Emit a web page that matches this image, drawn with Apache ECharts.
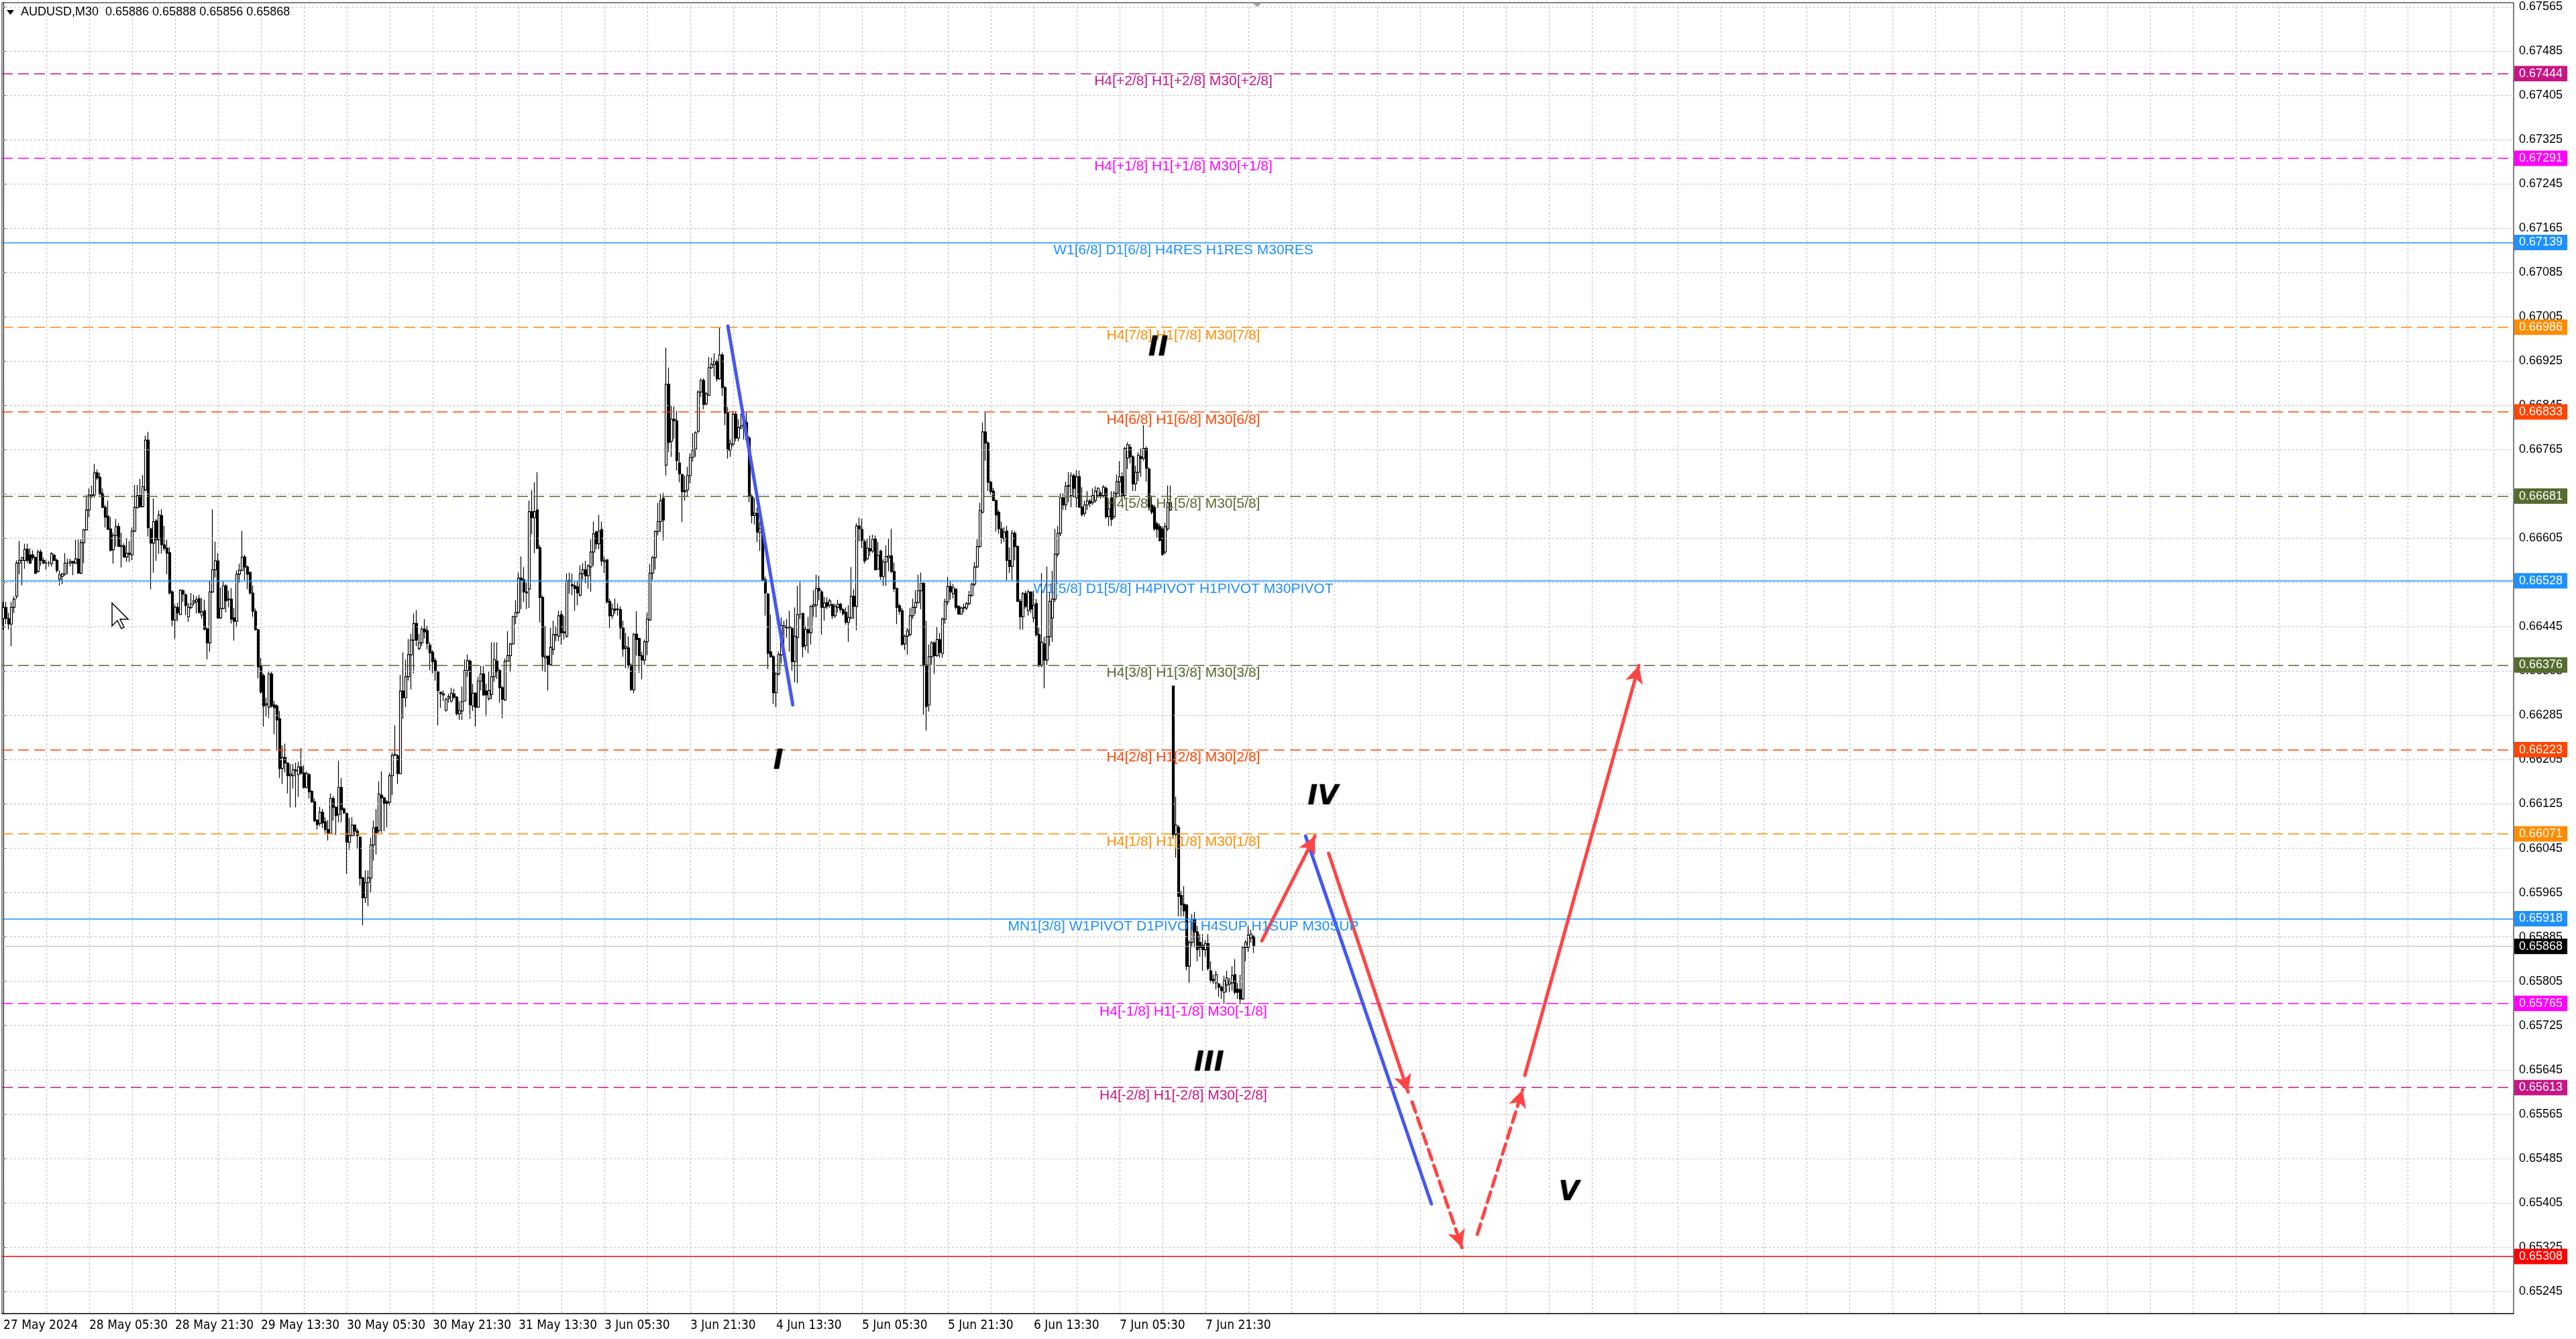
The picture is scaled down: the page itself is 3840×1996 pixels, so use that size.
<!DOCTYPE html>
<html>
<head>
<meta charset="utf-8">
<script src="https://cdn.jsdelivr.net/npm/echarts@6/dist/echarts.min.js"></script>
<style>
  html, body { margin: 0; padding: 0; background: #ffffff; }
  #chart { width: 3840px; height: 1996px; }
</style>
</head>
<body>
<div id="chart"></div>
<script>
// AUDUSD M30, prices in pips (x 0.0001), each row is [open, high, low, close]
var bars = [
  // 0
  [6646,6649,6644,6648],[6648,6649,6645,6646],[6646,6647,6644,6645],[6645,6649,6641,6648],[6648,6650,6647,6649.5],
  [6650,6656.5,6649.5,6656],[6656,6660,6654,6656.5],[6656.5,6657,6652,6657],[6656.5,6659.5,6655,6658.5],[6658.5,6659.5,6656,6656.5],
  // 10
  [6657.5,6658.7,6655.8,6656],[6657.5,6658.3,6656.5,6657],[6657,6657.2,6654,6654.2],[6654.5,6658.4,6654.3,6658],[6658,6658.5,6655.5,6656.5],
  [6656.5,6657,6655.8,6656],[6656,6656.6,6654.8,6656],[6656,6656.4,6655.4,6656],[6655.9,6658,6655.4,6657.7],[6657.4,6657.7,6656.4,6656.5],
  // 20
  [6656.5,6656.8,6654.3,6654.7],[6653.1,6654.7,6652,6653.9],[6653.6,6654.3,6652.2,6654],[6654,6657.8,6653.7,6656],[6656,6656.8,6654,6656],
  [6656,6656.8,6655.4,6656.3],[6656.3,6656.4,6653.8,6656],[6656,6660.2,6655.8,6656.8],[6656.7,6660.3,6654.2,6654.2],[6654.2,6660.3,6654,6659.7],
  // 30
  [6659.7,6662.2,6656,6662],[6662,6668.3,6661.9,6665.6],[6665.6,6669.5,6664.3,6668.3],[6668.2,6670,6667.7,6668.4],[6668.3,6673.9,6667.8,6672.3],
  [6672.3,6672.9,6671,6671.4],[6671.5,6672.3,6668.3,6668.4],[6668.6,6669.5,6665.9,6666.1],[6666.1,6666.5,6662.4,6664.3],[6664.5,6667.3,6662.1,6662.1],
  // 40
  [6662.2,6664.3,6658.1,6658.3],[6658.4,6661.5,6655.9,6661],[6661,6664,6659,6662.6],[6662.6,6663.2,6659,6659],[6659,6661.5,6655.2,6659.2],
  [6659.1,6659.6,6657,6657.1],[6657.1,6660.5,6656.2,6657.8],[6657.8,6660,6656.2,6657.6],[6657.5,6662.4,6656.5,6661.8],[6661.8,6670.1,6661.6,6666.1],
  // 50
  [6666,6670.1,6665.9,6668.2],[6668.2,6671.2,6666,6666.2],[6666.2,6671.9,6666,6669.8],[6669.2,6679,6669,6678.2],[6678.2,6679.7,6660.8,6662.4],
  [6662.2,6662.4,6651.3,6659.6],[6659.6,6667.7,6654.3,6663.5],[6663.6,6664,6656.4,6660.2],[6660.2,6665.5,6657.7,6664.7],[6664.6,6665.7,6657.7,6659.3],
  // 60
  [6659.3,6662.7,6658.2,6658.7],[6658.7,6660.2,6654,6657.8],[6657.9,6658.9,6650.3,6650.6],[6650.8,6651.1,6644.6,6645.7],[6645.7,6648.5,6642.3,6648],
  [6648,6648.8,6645.5,6647],[6646.7,6651.3,6646.6,6651.1],[6651,6651.3,6649,6650.4],[6650.3,6650.5,6646.6,6648.3],[6646.3,6648.8,6645.4,6648],
  // 70
  [6648,6650.6,6647.7,6648.6],[6648.8,6650.3,6648.4,6649.2],[6649,6650,6646.9,6649.4],[6649.6,6650.3,6646.9,6647.1],[6646.6,6649.7,6646,6647.2],
  [6647.4,6649.4,6643.8,6644.1],[6644.1,6644.4,6638.6,6641.6],[6641.6,6652.9,6640,6650.8],[6650.8,6665.7,6650.6,6654.8],[6654.8,6659.9,6653.4,6656.4],
  // 80
  [6656.4,6657.8,6646,6646.1],[6646.1,6651.6,6645.9,6647.8],[6647.8,6652.7,6647.7,6651.9],[6651.9,6652.2,6647.1,6649.2],[6649.5,6651,6648,6649.4],
  [6649.5,6651.5,6645.1,6645.9],[6646.1,6647.9,6642,6645.5],[6645.5,6654.7,6644.4,6654],[6654,6655.9,6652.5,6654.7],[6654.7,6661.8,6654.6,6657.1],
  // 90
  [6657.1,6657.5,6652.9,6655.3],[6655.3,6655.6,6651.3,6654],[6654.3,6654.5,6650.3,6650.6],[6650.6,6652,6646.3,6647.3],[6647.3,6647.8,6643.8,6644],
  [6644,6644.1,6635.2,6637.3],[6637.4,6638.9,6632.4,6632.7],[6635.7,6636.1,6626.5,6630.2],[6630.4,6631.7,6628.3,6630.6],[6630,6636.4,6628,6636],
  // 100
  [6636,6636.4,6629.9,6630.2],[6630.4,6631.1,6625.1,6629.9],[6630.2,6630.5,6622.4,6627.7],[6627.9,6629.3,6617.2,6618.9],[6618.9,6623.1,6616.1,6620.9],
  [6620.9,6623.4,6618.2,6619.9],[6619.9,6620,6614.4,6617.6],[6617.6,6619.7,6611.9,6617.9],[6617.6,6619.7,6615.3,6618.7],[6618.6,6620,6611.9,6618.5],
  // 110
  [6617.8,6620.1,6613.8,6619.2],[6619.2,6622.6,6617.8,6618.1],[6618.1,6619.5,6615.3,6615.5],[6615.5,6618.4,6615.3,6618],[6617.8,6618.1,6613.5,6614.7],
  [6614.8,6615,6612.7,6612.9],[6612.9,6613.5,6609.2,6609.5],[6609.6,6609.6,6607.9,6608.8],[6609,6612,6608.5,6611],[6611,6611.6,6608.2,6609.1],
  // 120
  [6609.3,6610.1,6607.3,6607.9],[6607.9,6609.6,6605.9,6607.2],[6607.2,6614.4,6607,6613.5],[6613.5,6613.9,6609.5,6611.9],[6611.9,6612.1,6606.9,6610.4],
  [6610.6,6620.3,6609.2,6615.5],[6615.5,6617.2,6609.2,6611.5],[6611.6,6611.9,6610.7,6610.9],[6610.8,6610.9,6599.9,6605.6],[6605.6,6610,6604.2,6606.8],
  // 130
  [6606.8,6610.1,6606.7,6608.7],[6608.7,6608.8,6606.7,6607.6],[6607.6,6608.1,6604.4,6606.8],[6606.5,6606.7,6597.8,6599.1],[6599.2,6599.3,6590.6,6595.6],
  [6595.6,6600.5,6594.6,6598.3],[6598.3,6600.5,6594.1,6599.2],[6599.1,6606.4,6596.5,6605.1],[6605.1,6609.5,6602.3,6608.2],[6608.3,6611.6,6603.4,6607.3],
  // 140
  [6607.7,6616.6,6607.3,6614.3],[6614.1,6618.4,6607.3,6613.6],[6613.6,6613.8,6607.6,6612.6],[6612.9,6613.2,6608.3,6612.6],[6612.8,6618.1,6612.2,6617.6],
  [6617.6,6621.8,6614.1,6621.3],[6621.3,6626.7,6621.2,6621.5],[6621.2,6621.5,6616.1,6618],[6618,6635.8,6618,6632.9],[6632.9,6639.9,6627.9,6631.7],
  // 150
  [6631.7,6638.6,6630,6635.5],[6635.5,6642.3,6634.8,6639.5],[6639.4,6643.2,6633.2,6642.1],[6642.1,6646.9,6636.1,6645.1],[6645.1,6647.5,6641,6642.1],
  [6640.6,6643.2,6640.3,6641.6],[6641.6,6644.7,6641,6644.1],[6644.1,6645.9,6642.4,6643.6],[6643.8,6644.7,6640.4,6641.5],[6641.2,6641.7,6636.7,6639.8],
  // 160
  [6639.9,6640.3,6636.1,6638.2],[6638.4,6638.9,6634.8,6636.6],[6636.4,6636.6,6626.7,6633],[6632.7,6632.7,6629.9,6632.4],[6632.4,6633,6631.1,6632.2],
  [6629.4,6631.7,6629.2,6631.4],[6631.6,6632.4,6630.8,6631.9],[6631.1,6633.5,6630.8,6632.5],[6632.4,6633.3,6631.4,6631.8],[6631.8,6632,6628.5,6628.8],
  // 170
  [6628.8,6631.1,6627.7,6629.4],[6629.3,6633.7,6627.7,6631],[6631.1,6638.6,6631,6636.6],[6636.6,6639.5,6635.5,6638.4],[6638.3,6638.6,6627.9,6630.4],
  [6630.2,6634.2,6629.3,6632.5],[6632.5,6632.7,6626.5,6630],[6630,6635.5,6629.9,6634.7],[6634.7,6637.5,6633,6636],[6636,6637.5,6632,6632.2],
  // 180
  [6632.9,6634.2,6628.3,6632.2],[6631.5,6636.4,6631.2,6633],[6632.3,6641.7,6631.4,6635.5],[6635.5,6641.7,6634.6,6638.6],[6638.3,6641.7,6635.1,6636.4],
  [6636.6,6636.9,6630.8,6633.5],[6633.5,6633.8,6628,6631.4],[6631.3,6638.8,6631.1,6638.3],[6638.3,6643.7,6638.2,6639.3],[6639.3,6641.6,6636.3,6641.4],
  // 190
  [6641.4,6646.5,6641.3,6646.3],[6646.3,6649.3,6645,6647.1],[6647.1,6654.3,6646.8,6653.3],[6653.3,6657.2,6647.7,6652.9],[6653,6655.3,6649,6650.8],
  [6650.8,6652.5,6647.7,6650.6],[6651.3,6667.3,6647.9,6665.3],[6665.3,6669.2,6661.2,6664.2],[6664.2,6670.6,6657.8,6665.3],[6665.6,6672.4,6658.5,6658.7],
  // 200
  [6658.8,6659.3,6645.3,6649.8],[6649.8,6650.2,6636.6,6639.1],[6638.9,6644.6,6636.3,6639.2],[6639.2,6639.3,6633,6637.7],[6637.7,6644.3,6637.6,6640.8],
  [6640.4,6645.6,6639.4,6643.1],[6643.1,6644.6,6641.9,6643],[6642.8,6647.4,6641.9,6646.5],[6646.7,6647.4,6641.3,6643.4],[6643.4,6646.5,6642.2,6643.6],
  // 210
  [6642.8,6654.1,6642.5,6652.8],[6652.9,6654.3,6650.5,6652.7],[6652.1,6654.1,6650.2,6651.9],[6651.9,6652.7,6647.4,6651.4],[6651.7,6652.7,6648.4,6650.6],
  [6650.2,6655.6,6650,6654.1],[6654.1,6656,6653,6654.8],[6654.8,6656.4,6652.4,6653.7],[6653.7,6655.8,6651.4,6655.5],[6655.3,6660.3,6650.8,6658],
  // 220
  [6658,6663.5,6655.5,6661.3],[6661.6,6661.9,6658.5,6659.5],[6659.5,6664.7,6658.5,6661.8],[6662.1,6663.5,6655.5,6656.4],[6656.4,6657.2,6654.2,6656.3],
  [6656.6,6656.7,6648.7,6649],[6649.1,6649.6,6644.3,6646.5],[6646.5,6648.7,6645.9,6647.7],[6647.7,6649.6,6646.8,6647.5],[6647.6,6648.7,6646.5,6647.7],
  // 230
  [6647.6,6648.2,6642.2,6644.3],[6644.3,6645.6,6639.1,6640.5],[6640.6,6643.4,6637,6640.9],[6640.7,6642.8,6637,6637.6],[6637.6,6637.9,6632.9,6633.2],
  [6633.1,6643.4,6632.5,6643.1],[6643.2,6647.3,6639.3,6642.2],[6642.4,6642.5,6636.2,6639.3],[6639.3,6640,6635,6638.5],[6638.5,6642.2,6637.6,6641.8],
  // 240
  [6641.8,6647.1,6639.4,6645.9],[6645.7,6655.8,6645.6,6654.2],[6654.2,6657.3,6653,6657],[6657,6661.9,6654.8,6661.7],[6661.7,6666.9,6661,6663.5],
  [6663.5,6668.5,6661.6,6667.3],[6667.7,6668.7,6660.1,6663.8],[6673.7,6694.9,6671.8,6688.3],[6688.3,6691.3,6676.1,6677.8],[6678,6684.5,6675.2,6682],
  // 250
  [6682,6684.3,6678.4,6681.7],[6681.7,6683.5,6672.7,6674.5],[6674.1,6676,6670.6,6672.1],[6672,6672.1,6663.4,6668.9],[6669.1,6671.8,6667.3,6668.9],
  [6669.2,6673.4,6668.1,6671.8],[6671.8,6675.8,6670.4,6675.1],[6675.1,6679.5,6674.3,6676.4],[6676.6,6679.8,6675.2,6679.5],[6679.8,6687.2,6679.5,6686.9],
  // 260
  [6686.9,6689.4,6686,6689],[6689,6689.4,6683.8,6684.6],[6684.8,6686.9,6684.5,6686.6],[6686.3,6693.2,6686.2,6691.3],[6691.3,6693.1,6691.1,6691.9],
  [6691.9,6693.9,6689.7,6692.4],[6692.4,6692.8,6688.8,6689.3],[6689.3,6698.5,6689.1,6693.6],[6693.6,6694,6686.2,6687.7],[6687.7,6688,6680.9,6683.1],
  // 270
  [6683.1,6684.2,6674.9,6676.4],[6676.4,6678.3,6675.2,6677.5],[6677.5,6683.4,6677.1,6682.9],[6682.9,6683.4,6678,6678.6],[6678.6,6682,6678,6680.5],
  [6680.4,6683,6680.2,6680.8],[6681.7,6683,6678.3,6680.8],[6681.4,6683.2,6678,6678.3],[6678.6,6678.9,6667,6668.1],[6668.1,6668.4,6663.2,6664.6],
  // 280
  [6664.6,6667.8,6663,6665],[6665,6666,6659.8,6661.6],[6661.5,6663.5,6658.2,6662.2],[6662.1,6662.5,6652.7,6653],[6653,6653.6,6646.5,6650.6],
  [6650.4,6650.6,6636.9,6639.7],[6640,6646.7,6638.9,6639.1],[6639.1,6639.4,6630.6,6632.6],[6632.6,6636.3,6630,6636],[6636,6640,6635.7,6639.5],
  // 290
  [6639.4,6646.2,6637.9,6644.7],[6644.4,6645.6,6640.6,6644.7],[6644.4,6645.9,6642.5,6644.3],[6644.3,6647.4,6640,6644.5],[6644.2,6644.5,6636.6,6638.2],
  [6638.2,6648,6634.5,6642.8],[6642.6,6651.9,6634.3,6646.7],[6646.8,6652.7,6645.9,6646.8],[6646.9,6647.1,6639,6640.9],[6641.1,6644.6,6640.3,6644],
  // 300
  [6644,6646.3,6639.7,6643.4],[6643.4,6648.4,6641.3,6648.2],[6648.2,6651.1,6646.3,6648.5],[6648.4,6653.9,6646.2,6651.4],[6651.4,6653.7,6649.3,6651],
  [6650.8,6651.1,6643.1,6648],[6648,6649.9,6645.6,6648.8],[6648.9,6649.8,6647.7,6648.2],[6648.4,6649.6,6647.9,6649.2],[6648.5,6648.7,6645.9,6646.5],
  // 310
  [6646.5,6648.7,6646.1,6648.2],[6648,6649.4,6647.1,6648.6],[6648.6,6648.8,6647.1,6647.6],[6647.6,6647.9,6646.5,6646.9],[6647.1,6648,6644.9,6645.3],
  [6645.3,6648.4,6641.8,6646.2],[6646.1,6655.3,6645.9,6650],[6650,6651.3,6645.9,6648.2],[6648.2,6663.2,6643.9,6662.7],[6662.7,6664.2,6659.9,6662.2],
  // 320
  [6662.1,6664,6658.7,6660.1],[6659.9,6660.3,6655.9,6656.4],[6656.8,6660.4,6656.5,6658.7],[6658.6,6661,6657.3,6658.2],[6658.2,6661.1,6657.8,6660.3],
  [6660.3,6661,6654.7,6654.8],[6654.9,6659.8,6654.8,6657.4],[6658.2,6658.4,6653,6653.6],[6653.6,6656.7,6651.9,6656.2],[6656.2,6659.2,6651.9,6657.2],
  // 330
  [6657,6660.4,6654.5,6657.3],[6657.3,6662.2,6654.2,6654.5],[6654.5,6656.1,6650.8,6651.4],[6651.4,6651.6,6645,6648],[6648.3,6648.7,6646.7,6647.3],
  [6647.4,6647.9,6641.1,6641.3],[6641.4,6643.1,6640.3,6642.8],[6642.8,6644.3,6639.5,6643.8],[6643.1,6647.9,6642.8,6646.5],[6646.5,6649.6,6645.9,6648],
  // 340
  [6648,6651.1,6646.8,6648.9],[6648.9,6653.9,6648.7,6651],[6651,6654.3,6647.7,6652.4],[6652.4,6652.5,6628.6,6637.6],[6637.6,6645.6,6625.8,6630.1],
  [6630.4,6641.3,6629.2,6639.1],[6639.1,6641.9,6637.6,6641.6],[6641.6,6641.9,6636,6639.3],[6639.3,6644.5,6639.1,6642.2],[6642.2,6643.4,6638.9,6639.9],
  // 350
  [6639.7,6646.2,6638.9,6645.9],[6645.9,6649.6,6645.1,6649],[6649,6653.5,6648.4,6651.8],[6651.8,6652.7,6649.4,6650.8],[6650.5,6652.2,6649.6,6651.6],
  [6651.3,6651.4,6647.6,6648],[6648.2,6648.4,6646.7,6646.8],[6646.8,6648.2,6646.7,6647.9],[6648,6648.7,6647.1,6647.9],[6647.9,6649,6647.5,6648.7],
  // 360
  [6648.7,6651,6648.4,6650.2],[6650.2,6652.5,6649.9,6652.2],[6652.2,6656.2,6651.8,6655.3],[6655.3,6660.3,6655.1,6659],[6659,6666.9,6658.8,6665.5],
  [6665.2,6681.4,6665,6679.7],[6679.7,6683.2,6674.5,6677.7],[6677.7,6678,6669,6670.6],[6670.6,6670.9,6668.4,6668.9],[6669,6669.6,6667.2,6667.3],
  // 370
  [6667.3,6667.5,6661.7,6664.7],[6665.2,6665.6,6661.3,6662.2],[6662.2,6663.5,6659.5,6660.5],[6660.5,6662.5,6659.8,6661.6],[6661.8,6662.7,6652.9,6656.5],
  [6656.5,6658.8,6654.2,6655.4],[6655.4,6662,6652.9,6661.4],[6661.4,6661.8,6656.5,6659],[6659,6659.2,6649,6649.1],[6649.1,6649.5,6644,6646.3],
  // 380
  [6646.3,6650.8,6644,6650.5],[6650.5,6651,6647.8,6648.2],[6647.4,6651.2,6646.5,6650.8],[6650.8,6650.9,6647,6647.7],[6646.1,6651,6645.3,6648.4],
  [6648.7,6649.5,6642.7,6643.1],[6643.1,6644.4,6637.2,6637.6],[6637.6,6654.2,6637.2,6641.7],[6641.4,6642.7,6633.4,6638.5],[6638.5,6655.4,6637.6,6642.7],
  // 390
  [6642.7,6650.8,6641,6649.1],[6646.1,6654.6,6641.8,6649.5],[6649.5,6662.2,6649,6657.6],[6657.6,6662.7,6657.1,6661.4],[6661.4,6668.6,6660.9,6667.8],
  [6667.8,6668.6,6665.6,6666.5],[6666.5,6670.7,6665.6,6669.9],[6669.9,6672.4,6667,6670],[6668.2,6672.4,6666.1,6671.8],[6671.8,6672.2,6667.8,6669.5],
  // 400
  [6667.8,6672.8,6666.1,6671.6],[6671.6,6672.7,6666,6666.1],[6666.1,6669.7,6664.4,6664.8],[6665,6667.3,6664.4,6666.5],[6666.5,6669,6665.6,6667.2],
  [6667.2,6667.6,6666.1,6666.8],[6666.9,6669.5,6666.5,6668.2],[6667.3,6669.9,6666.9,6669],[6668.2,6669.7,6667.8,6669.5],[6668.6,6669,6667.6,6668.2],
  // 410
  [6668.2,6670.1,6667.8,6669.7],[6669.5,6669.9,6664,6664.4],[6664.4,6667.7,6662.7,6665.8],[6667.8,6669,6662.7,6663.9],[6664.4,6669,6664,6668.6],
  [6668.6,6672,6667.8,6670.7],[6670.7,6674.4,6668,6671.6],[6671.6,6672.4,6667.5,6668.2],[6668.2,6677,6667.5,6676.7],[6675,6677.8,6673,6677.4],
  // 420
  [6676.9,6677.5,6674,6675.2],[6675.2,6675.5,6669,6670.3],[6670.3,6673.6,6669,6672.4],[6672.4,6676,6670.8,6675.5],[6675.2,6676.7,6671.6,6674.9],
  [6674.9,6680.9,6674.5,6676.7],[6676.7,6677.1,6670.7,6673.1],[6673,6673.3,6665.6,6666.1],[6666.5,6668.2,6664.8,6665.2],[6666.1,6666.5,6661.8,6662.2],
  // 430
  [6663.1,6663.5,6660.6,6662.1],[6662.6,6663.1,6659.9,6660.1],[6662.2,6662.6,6657.3,6657.6],[6658,6663.3,6657.6,6662.6],[6662.2,6670,6661.8,6666.9],
  [6665.6,6670,6665.4,6666.9],[6633.8,6633.8,6606.2,6607],[6607,6613.8,6602.8,6608.7],[6608.3,6608.7,6592.2,6595.8],[6596,6596.8,6592.2,6594.3],
  // 440
  [6594.4,6597.7,6592.2,6593.2],[6594.3,6594.3,6582.5,6583.2],[6583.2,6587.9,6580.2,6587.5],[6587.5,6592.6,6586.6,6591.7],[6591.7,6593,6586.6,6589.4],
  [6589.4,6590.5,6584.1,6586.2],[6587.5,6589,6584.9,6586.6],[6587,6589,6582.4,6586.2],[6586.2,6587.9,6584.9,6587.3],[6587.3,6589,6582.4,6582.8],
  // 450
  [6582.4,6584.1,6580.2,6580.6],[6580.8,6581.7,6580,6580.5],[6580.2,6582.4,6579,6581.7],[6580,6580.2,6577.7,6579.4],[6579.4,6579.8,6577.3,6578.8],
  [6578.5,6581.5,6576.4,6580.6],[6579.8,6582.4,6578.5,6581.1],[6580,6581.1,6578.5,6580.5],[6580.2,6583.2,6578.8,6581.5],[6581.7,6584.5,6578.1,6578.5],
  // 460
  [6579.1,6580.2,6577.3,6578.5],[6579,6581.7,6576.3,6577.3],[6577.3,6586.8,6577.1,6586.6],[6586.6,6587.9,6584.1,6587.5],[6586.6,6590.5,6585.8,6588.8],
  [6588.3,6589.8,6587.5,6589],[6588.6,6588.8,6585.6,6586.8]
];

// time labels, one every 32 bars (16 hours) starting at bar 0
var timeLabels = ['27 May 2024', '28 May 05:30', '28 May 21:30', '29 May 13:30', '30 May 05:30',
  '30 May 21:30', '31 May 13:30', '3 Jun 05:30', '3 Jun 21:30', '4 Jun 13:30',
  '5 Jun 05:30', '5 Jun 21:30', '6 Jun 13:30', '7 Jun 05:30', '7 Jun 21:30'];

var priceTicks = [0.65245, 0.65325, 0.65405, 0.65485, 0.65565, 0.65645, 0.65725, 0.65805, 0.65885, 0.65965,
  0.66045, 0.66125, 0.66205, 0.66285, 0.66365, 0.66445, 0.66525, 0.66605, 0.66685, 0.66765,
  0.66845, 0.66925, 0.67005, 0.67085, 0.67165, 0.67245, 0.67325, 0.67405, 0.67485, 0.67565];

// Murrey math levels
var levelPrices = [0.67444, 0.67291, 0.67139, 0.66986, 0.66833, 0.66681, 0.66528,
  0.66376, 0.66223, 0.66071, 0.65918, 0.65765, 0.65613, 0.65308];
var levelNames = ['H4[+2/8] H1[+2/8] M30[+2/8]', 'H4[+1/8] H1[+1/8] M30[+1/8]',
  'W1[6/8] D1[6/8] H4RES H1RES M30RES', 'H4[7/8] H1[7/8] M30[7/8]', 'H4[6/8] H1[6/8] M30[6/8]',
  'H4[5/8] H1[5/8] M30[5/8]', 'W1[5/8] D1[5/8] H4PIVOT H1PIVOT M30PIVOT', 'H4[3/8] H1[3/8] M30[3/8]',
  'H4[2/8] H1[2/8] M30[2/8]', 'H4[1/8] H1[1/8] M30[1/8]', 'MN1[3/8] W1PIVOT D1PIVOT H4SUP H1SUP M30SUP',
  'H4[-1/8] H1[-1/8] M30[-1/8]', 'H4[-2/8] H1[-2/8] M30[-2/8]', ''];
var levelLabelBar = 439.75;

// Elliott wave marks: name, bar, price
var waveNames = ['I', 'II', 'III', 'IV', 'V'];
var waveBars = [288.8, 430.4, 449.3, 491.8, 583.5];
var wavePrices = [0.66201, 0.66948, 0.65656, 0.66137, 0.65422];

// drawn segments: [fromBar, fromPrice, toBar, toPrice]
var blueSegments = [[270, 0.66988, 294.2, 0.66304], [485.3, 0.66067, 532.2, 0.65403]];
var redSegments = [[469.0, 0.65878, 488.8, 0.66067], [493.9, 0.66036, 523.5, 0.65605], [567.0, 0.65635, 609.5, 0.66375]];
var redDashedSegments = [[525.0, 0.65587, 543.6, 0.65324], [549.3, 0.65348, 566.2, 0.65609]];

// ---- styles ----
var levelColors = ['#C71585', '#FF00FF', '#1E90FF', '#FF8C00', '#FF4500', '#556B2F', '#1E90FF',
  '#556B2F', '#FF4500', '#FF8C00', '#1E90FF', '#FF00FF', '#C71585', '#FF0000'];
var levelSolid = [false, false, true, false, false, false, true, false, false, false, true, false, false, true];

var axisFont = 'Liberation Sans';
var levelFont = 'Liberation Sans';
var timeFont = "'Liberation Sans Narrow', 'DejaVu Sans Condensed', sans-serif";
var slotCount = 936;
var xLeft = -0.5, xRight = slotCount - 0.5;

var categories = [];
for (var i = 0; i < slotCount; i++) categories.push(i);

var candleData = bars.map(function (b) {
  return [b[0] / 10000, b[3] / 10000, b[2] / 10000, b[1] / 10000];
});
var last = bars[bars.length - 1];
var lastClose = last[3] / 10000;
var header = 'AUDUSD,M30  ' + last.map(function (v) { return (v / 10000).toFixed(5); }).join(' ');

function seg(s, color, dash, arrow) {
  return [
    { coord: [s[0], s[1]], symbol: 'none',
      lineStyle: { color: color, width: 5, type: dash ? [16, 9] : 'solid', cap: 'round' } },
    { coord: [s[2], s[3]], symbol: arrow ? 'arrow' : 'none', symbolSize: [20, 26] }
  ];
}

function hline(p, lineStyle, label) {
  return [
    { coord: [xLeft, p], symbol: 'none', lineStyle: lineStyle, label: label },
    { coord: [xRight, p], symbol: 'none' }
  ];
}

var tagLabel = function (text, bg) {
  return {
    show: true, position: 'end', distance: 1, formatter: text,
    color: '#ffffff', backgroundColor: bg, padding: [2, 7, 2, 7],
    fontFamily: axisFont, fontSize: 18, lineHeight: 19
  };
};

var gridLines = priceTicks.map(function (v) {
  return hline(v, { color: '#c4c4c4', type: [3, 3], width: 1.2 }, { show: false });
});

var levelLines = levelPrices.map(function (p, k) {
  return hline(p,
    { color: levelColors[k], width: levelSolid[k] ? 1.6 : 1.5, type: levelSolid[k] ? 'solid' : [16, 8] },
    tagLabel(p.toFixed(5), levelColors[k]));
});
levelLines.push(hline(lastClose, { color: '#b8b8b8', width: 1.2, type: 'solid' },
  tagLabel(lastClose.toFixed(5), '#000000')));

var levelTexts = [];
levelPrices.forEach(function (p, k) {
  if (!levelNames[k]) return;
  levelTexts.push({
    coord: [levelLabelBar, p], name: levelNames[k],
    label: { color: levelColors[k] }
  });
});

var waveMarks = waveNames.map(function (n, k) {
  return { coord: [waveBars[k], wavePrices[k]], name: n };
});

var pathLines = [];
blueSegments.forEach(function (s) { pathLines.push(seg(s, '#4657F0', false, false)); });
redSegments.forEach(function (s) { pathLines.push(seg(s, '#FF4444', false, true)); });
redDashedSegments.forEach(function (s) { pathLines.push(seg(s, '#FF4444', true, true)); });

var chart = echarts.init(document.getElementById('chart'), null, { width: 3840, height: 1996 });

chart.setOption({
  animation: false,
  backgroundColor: '#ffffff',
  grid: {
    left: 3, right: 93, top: 4, bottom: 38,
    show: true, borderColor: '#000000', borderWidth: 1, backgroundColor: '#ffffff',
    containLabel: false, outerBoundsMode: 'none'
  },
  xAxis: [{
    type: 'category',
    data: categories,
    boundaryGap: true,
    axisLine: { show: true, lineStyle: { color: '#000000', width: 1 } },
    axisTick: { show: false },
    axisLabel: {
      show: true,
      interval: function (index) { return index % 32 === 0 && index / 32 < timeLabels.length; },
      formatter: function (value, index) { return timeLabels[Math.round(index / 32)] || ''; },
      align: 'left', margin: 9, color: '#000000',
      fontFamily: timeFont, fontSize: 19
    },
    splitLine: {
      show: true, alignWithLabel: true,
      interval: function (index) { return index % 16 === 0; },
      lineStyle: { color: '#c4c4c4', type: [3, 3], width: 1.2 }
    }
  }, {
    type: 'value', min: xLeft, max: xRight, show: false
  }],
  yAxis: [{
    type: 'value',
    position: 'right',
    min: 0.65205, max: 0.67572,
    axisLine: { show: true, lineStyle: { color: '#000000', width: 1 } },
    axisTick: { show: true, customValues: priceTicks, length: 3, inside: false,
      lineStyle: { color: '#000000', width: 1 } },
    axisLabel: {
      show: true, customValues: priceTicks, margin: 8, color: '#000000',
      fontFamily: axisFont, fontSize: 18,
      formatter: function (v) { return v.toFixed(5); }
    },
    splitLine: { show: false }
  }],
  series: [
    {
      // price grid
      type: 'line', xAxisIndex: 1, yAxisIndex: 0, data: [], z: 1, silent: true,
      markLine: { silent: true, symbol: 'none', animation: false, data: gridLines }
    },
    {
      type: 'candlestick', name: 'AUDUSD', xAxisIndex: 0, yAxisIndex: 0,
      data: candleData, z: 3, barWidth: 3,
      itemStyle: {
        color: '#ffffff', color0: '#000000',
        borderColor: '#000000', borderColor0: '#000000', borderColorDoji: '#000000',
        borderWidth: 1.2
      }
    },
    {
      // Murrey levels with price tags and names
      type: 'line', xAxisIndex: 1, yAxisIndex: 0, data: [], z: 4, silent: true,
      markLine: { silent: true, symbol: 'none', animation: false, data: levelLines },
      markPoint: {
        silent: true, animation: false, symbol: 'circle', symbolSize: 1,
        itemStyle: { color: 'rgba(0,0,0,0)' },
        label: {
          show: true, position: 'bottom', distance: 1, formatter: '{b}',
          fontFamily: levelFont, fontSize: 21
        },
        data: levelTexts
      }
    },
    {
      // wave counts and projected path
      type: 'line', xAxisIndex: 1, yAxisIndex: 0, data: [], z: 5, silent: true,
      markLine: { silent: true, animation: false, symbol: 'none', label: { show: false }, data: pathLines },
      markPoint: {
        silent: true, animation: false, symbol: 'circle', symbolSize: 1,
        itemStyle: { color: 'rgba(0,0,0,0)' },
        label: {
          show: true, position: 'inside', formatter: '{b}', color: '#000000',
          fontFamily: 'DejaVu Sans', fontStyle: 'italic', fontWeight: 'bold', fontSize: 40,
          textShadowColor: 'rgba(0,0,0,0.45)', textShadowBlur: 3
        },
        data: waveMarks
      }
    }
  ],
  graphic: [
    { type: 'polygon', shape: { points: [[10, 15], [21, 15], [15.5, 22]] }, style: { fill: '#000000' }, z: 100 },
    { type: 'text', left: 31, top: 9, z: 100,
      style: { text: header, fill: '#000000', font: '18px Liberation Sans' } },
    { type: 'polygon', z: 100,
      shape: { points: [[167, 899], [167, 933], [175, 925], [181, 937], [185, 935], [179, 923], [191, 923]] },
      style: { fill: '#ffffff', stroke: '#000000', lineWidth: 1.5 } },
    { type: 'polygon', z: 100,
      shape: { points: [[1866, 4], [1882, 4], [1874, 10]] },
      style: { fill: '#a0a0a0' } }
  ]
});
</script>
</body>
</html>
